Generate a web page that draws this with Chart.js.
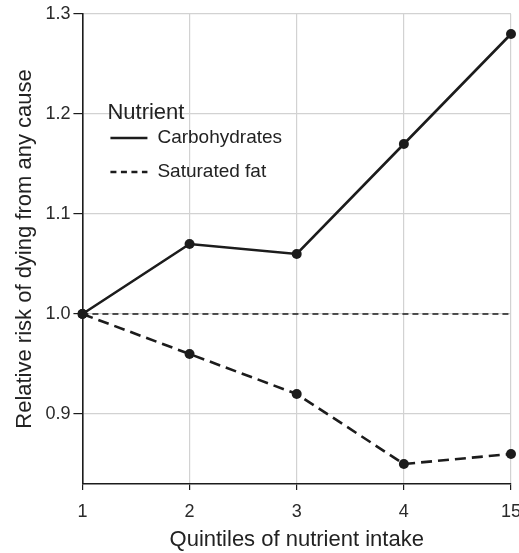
<!DOCTYPE html>
<html>
<head>
<meta charset="utf-8">
<script src="https://cdn.jsdelivr.net/npm/chart.js@4/dist/chart.umd.min.js"></script>
<style>
  html, body { margin: 0; padding: 0; background: #fff; overflow: hidden; }
  #wrap { width: 519px; height: 553px; }
</style>
</head>
<body>
<div id="wrap"><canvas id="chart"></canvas></div>
<script>
const quintiles = ['1', '2', '3', '4', '15']
const carbohydrates = [1.0, 1.07, 1.06, 1.17, 1.28]
const saturatedFat = [1.0, 0.96, 0.92, 0.85, 0.86]
const yTicks = [0.9, 1.0, 1.1, 1.2, 1.3]
const referenceValue = 1.0

const ink = '#1c1c1c'
const font = '"Liberation Sans", Arial, Helvetica, sans-serif'

// dashed reference line at 1.0
const refLine = {
    id: 'refLine',
    beforeDatasetsDraw(chart) {
        const { ctx, chartArea } = chart
        const y = chart.scales.y.getPixelForValue(referenceValue)
        ctx.save()
        ctx.strokeStyle = ink
        ctx.lineWidth = 1.4
        ctx.setLineDash([6, 4])
        ctx.beginPath()
        ctx.moveTo(chartArea.left, y)
        ctx.lineTo(chartArea.right, y)
        ctx.stroke()
        ctx.restore()
    }
}

// legend drawn inside the plot
const innerLegend = {
    id: 'innerLegend',
    afterDraw(chart) {
        const { ctx, chartArea } = chart
        const x0 = chartArea.left + 25
        const y0 = chartArea.top + 99
        ctx.save()
        ctx.fillStyle = '#222'
        ctx.textBaseline = 'middle'
        ctx.font = '22px ' + font
        ctx.fillText('Nutrient', x0, y0)
        chart.data.datasets.forEach((ds, i) => {
            const ly = y0 + 25 + i * 34
            ctx.strokeStyle = ink
            ctx.lineWidth = 2.5
            ctx.setLineDash(ds.borderDash ? [6, 4.5] : [])
            ctx.beginPath()
            ctx.moveTo(x0 + 3, ly)
            ctx.lineTo(x0 + 40, ly)
            ctx.stroke()
            ctx.setLineDash([])
            ctx.font = '19px ' + font
            ctx.fillText(ds.label, x0 + 50, ly)
        })
        ctx.restore()
    }
}

new Chart(document.getElementById('chart').getContext('2d'), {
    type: 'line',
    data: {
        labels: quintiles,
        datasets: [{
            label: 'Carbohydrates',
            data: carbohydrates,
            borderColor: ink,
            backgroundColor: ink,
            borderWidth: 2.6,
            pointRadius: 5,
            pointBackgroundColor: ink,
            pointBorderWidth: 0,
            tension: 0
        }, {
            label: 'Saturated fat',
            data: saturatedFat,
            borderColor: ink,
            backgroundColor: ink,
            borderWidth: 2.6,
            borderDash: [11, 6],
            pointRadius: 5,
            pointBackgroundColor: ink,
            pointBorderWidth: 0,
            tension: 0
        }]
    },
    options: {
        responsive: true,
        maintainAspectRatio: false,
        animation: false,
        layout: {
            padding: { left: 8, right: 8, top: 14, bottom: 0 }
        },
        scales: {
            x: {
                offset: false,
                afterFit(scale) {
                    // let the last label run off the edge like the original
                    scale.paddingRight = 0
                    scale.height = 69
                },
                grid: {
                    color: '#d2d2d2',
                    lineWidth: 1.2,
                    tickColor: ink,
                    tickLength: 6
                },
                border: { color: ink, width: 1.6 },
                ticks: {
                    color: '#2a2a2a',
                    font: { family: font, size: 18 },
                    padding: 11,
                    maxRotation: 0
                },
                title: {
                    display: true,
                    text: 'Quintiles of nutrient intake',
                    color: '#222',
                    font: { family: font, size: 22 },
                    padding: { top: 6, bottom: 0 }
                }
            },
            y: {
                min: 0.83,
                max: 1.3,
                afterBuildTicks(scale) {
                    scale.ticks = yTicks.map(v => ({ value: v }))
                },
                grid: {
                    color: '#d2d2d2',
                    lineWidth: 1.2,
                    tickColor: ink,
                    tickLength: 9
                },
                border: { color: ink, width: 1.6 },
                ticks: {
                    color: '#2a2a2a',
                    font: { family: font, size: 18 },
                    padding: 3,
                    callback: v => v.toFixed(1)
                },
                title: {
                    display: true,
                    text: 'Relative risk of dying from any cause',
                    color: '#222',
                    font: { family: font, size: 22 },
                    padding: { top: 4, bottom: 4 }
                }
            }
        },
        plugins: {
            legend: { display: false },
            tooltip: { enabled: false }
        }
    },
    plugins: [refLine, innerLegend]
})
</script>
</body>
</html>
